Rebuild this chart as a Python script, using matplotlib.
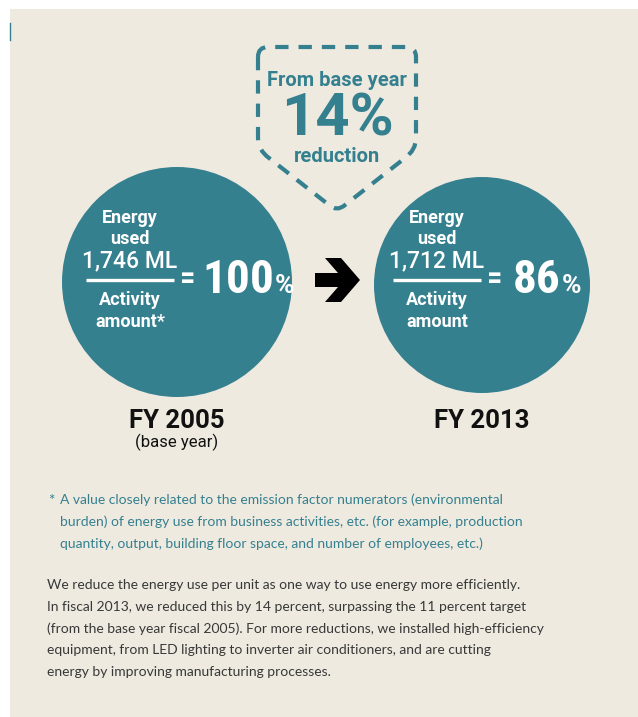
import matplotlib.pyplot as plt
from matplotlib.patches import Circle, Rectangle, PathPatch
from matplotlib.path import Path
from matplotlib import font_manager

# data
years = [2005, 2013]
year_notes = ["(base year)", ""]
energy_ml = [1746, 1712]
ratio_pct = [100, 86]
reduction_pct = 14
footnote_lines = [
    "A value closely related to the emission factor numerators (environmental",
    "burden) of energy use from business activities, etc. (for example, production",
    "quantity, output, building floor space, and number of employees, etc.)",
]
body_lines = [
    "We reduce the energy use per unit as one way to use energy more efficiently.",
    "In fiscal 2013, we reduced this by 14 percent, surpassing the 11 percent target",
    "(from the base year fiscal 2005). For more reductions, we installed high-efficiency",
    "equipment, from LED lighting to inverter air conditioners, and are cutting",
    "energy by improving manufacturing processes.",
]

TEAL = "#35808f"
BEIGE = "#eeeae0"
names = {f.name for f in font_manager.fontManager.ttflist}
COND = next((n for n in ["Roboto Condensed", "Liberation Sans Narrow", "Roboto"] if n in names),
            "DejaVu Sans")
BODY = "Lato" if "Lato" in names else "DejaVu Sans"
SANS = "Roboto" if "Roboto" in names else "DejaVu Sans"

fig = plt.figure(figsize=(6.38, 7.17), dpi=100)
ax = fig.add_axes([0, 0, 1, 1])
ax.set_xlim(0, 638)
ax.set_ylim(717, 0)
ax.axis("off")

ax.add_patch(Rectangle((10, 9), 628, 708, color=BEIGE, lw=0))
ax.plot([9.5, 9.5], [23, 40], color=TEAL, lw=1)

# dashed shield
verts = [(258, 57), (258, 47), (268, 47),
         (406, 47), (416, 47), (416, 57),
         (416, 138), (416, 150), (405, 158),
         (345, 205), (337, 212), (329, 205),
         (269, 158), (258, 150), (258, 138),
         (258, 57)]
codes = [Path.MOVETO, Path.CURVE3, Path.CURVE3,
         Path.LINETO, Path.CURVE3, Path.CURVE3,
         Path.LINETO, Path.CURVE3, Path.CURVE3,
         Path.LINETO, Path.CURVE3, Path.CURVE3,
         Path.LINETO, Path.CURVE3, Path.CURVE3,
         Path.LINETO]
ax.add_patch(PathPatch(Path(verts, codes), fill=False, ec=TEAL, lw=3,
                       ls=(0, (3.2, 2.4)), capstyle="butt", joinstyle="round"))
ax.text(337, 80, "From base year", ha="center", va="center", color=TEAL,
        fontsize=14.5, fontweight="bold", family=SANS)
ax.text(337, 119, f"{reduction_pct}%", ha="center", va="center", color=TEAL,
        fontsize=43, fontweight="bold", family=SANS)
ax.text(337, 157, "reduction", ha="center", va="center", color=TEAL,
        fontsize=14.5, fontweight="bold", family=SANS)

# circles
centers = [(177, 282, 115), (482, 285, 108)]
eq_pos = [188, 495]
num_pos = [202, 513]
label_x = [130, 437]
for i, (cx, cy, r) in enumerate(centers):
    ax.add_patch(Circle((cx, cy), r, color=TEAL, lw=0))
    tx = label_x[i]
    ax.text(tx, 218, "Energy", ha="center", va="center", color="white",
            fontsize=13, fontweight="bold", family=SANS)
    ax.text(tx, 239, "used", ha="center", va="center", color="white",
            fontsize=13, fontweight="bold", family=SANS)
    ax.text(tx, 261, f"{energy_ml[i]:,} ML", ha="center", va="center", color="white",
            fontsize=16.5, fontweight="medium", family=SANS)
    ax.plot([tx - 44, tx + 44], [280, 280], color="white", lw=2.4, solid_capstyle="butt")
    ax.text(tx, 300, "Activity", ha="center", va="center", color="white",
            fontsize=13, fontweight="bold", family=SANS)
    ax.text(tx, 322, "amount*" if i == 0 else "amount", ha="center", va="center",
            color="white", fontsize=13, fontweight="bold", family=SANS)
    ax.text(eq_pos[i], 279, "=", ha="center", va="center", color="white",
            fontsize=22, fontweight="bold", family=COND)
    t = ax.text(num_pos[i], 280, f"{ratio_pct[i]}", ha="left", va="center", color="white",
                fontsize=34, fontweight="bold", family=COND)
    fig.canvas.draw()
    bb = t.get_window_extent().transformed(ax.transData.inverted())
    ax.text(bb.x1 + 1, 286, "%", ha="left", va="center", color="white",
            fontsize=19, fontweight="bold", family=SANS)
    ax.text(cx, 421, f"FY {years[i]}", ha="center", va="center", color="#111111",
            fontsize=18.5, fontweight="bold", family=SANS)
    if year_notes[i]:
        ax.text(cx, 442, year_notes[i], ha="center", va="center", color="#111111",
                fontsize=12, family=SANS)

# arrow
arrow = Path([(315, 273), (338, 273), (325, 258), (341, 258), (360, 280),
              (341, 302), (325, 302), (338, 287), (315, 287), (315, 273)],
             [Path.MOVETO] + [Path.LINETO] * 8 + [Path.CLOSEPOLY])
ax.add_patch(PathPatch(arrow, color="black", lw=0))

# footnote
ax.text(48, 501, "*", ha="left", va="center", color=TEAL, fontsize=11, family=BODY)
for k, line in enumerate(footnote_lines):
    ax.text(60, 500 + 22 * k, line, ha="left", va="center", color=TEAL,
            fontsize=10, family=BODY)

for k, line in enumerate(body_lines):
    ax.text(47, 585 + 21.7 * k, line, ha="left", va="center", color="#383838",
            fontsize=10, family=BODY)

fig.savefig("out.png", dpi=100, facecolor="white")
